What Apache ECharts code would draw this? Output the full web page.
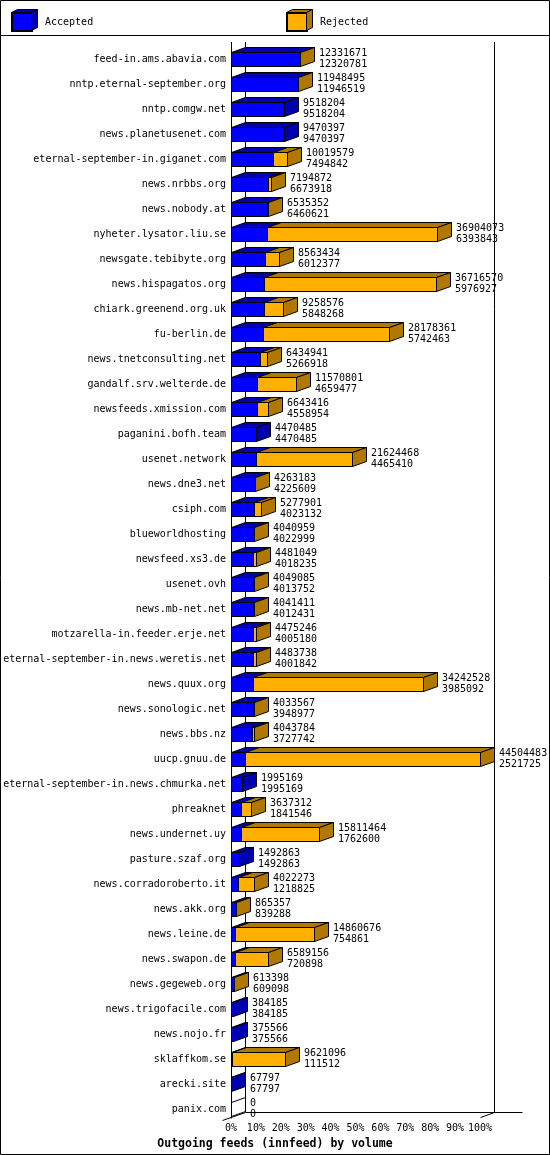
<!DOCTYPE html>
<html>
<head>
<meta charset="utf-8">
<script src="https://cdn.jsdelivr.net/npm/echarts@6/dist/echarts.min.js"></script>
<style>
html,body{margin:0;padding:0;background:#fff;}
#main{width:550px;height:1155px;}
</style>
</head>
<body>
<div id="main"></div>
<script>
var feeds = ['feed-in.ams.abavia.com','nntp.eternal-september.org','nntp.comgw.net','news.planetusenet.com',
	'eternal-september-in.giganet.com','news.nrbbs.org','news.nobody.at','nyheter.lysator.liu.se',
	'newsgate.tebibyte.org','news.hispagatos.org','chiark.greenend.org.uk','fu-berlin.de',
	'news.tnetconsulting.net','gandalf.srv.welterde.de','newsfeeds.xmission.com','paganini.bofh.team',
	'usenet.network','news.dne3.net','csiph.com','blueworldhosting','newsfeed.xs3.de','usenet.ovh',
	'news.mb-net.net','motzarella-in.feeder.erje.net','eternal-september-in.news.weretis.net',
	'news.quux.org','news.sonologic.net','news.bbs.nz','uucp.gnuu.de',
	'eternal-september-in.news.chmurka.net','phreaknet','news.undernet.uy','pasture.szaf.org',
	'news.corradoroberto.it','news.akk.org','news.leine.de','news.swapon.de','news.gegeweb.org',
	'news.trigofacile.com','news.nojo.fr','sklaffkom.se','arecki.site','panix.com'];
// offered articles (first number) and accepted (second number)
var offered = [12331671,11948495,9518204,9470397,10019579,7194872,6535352,36904073,8563434,36716570,
	9258576,28178361,6434941,11570801,6643416,4470485,21624468,4263183,5277901,4040959,4481049,
	4049085,4041411,4475246,4483738,34242528,4033567,4043784,44504483,1995169,3637312,15811464,
	1492863,4022273,865357,14860676,6589156,613398,384185,375566,9621096,67797,0];
var accepted = [12320781,11946519,9518204,9470397,7494842,6673918,6460621,6393843,6012377,5976927,
	5848268,5742463,5266918,4659477,4558954,4470485,4465410,4225609,4023132,4022999,4018235,
	4013752,4012431,4005180,4001842,3985092,3948977,3727742,2521725,1995169,1841546,1762600,
	1492863,1218825,839288,754861,720898,609098,384185,375566,111512,67797,0];
var tickLabels = ['0%','10%','20%','30%','40%','50%','60%','70%','80%','90%','100%'];

var FONT = 'DejaVu Sans Mono';
var BLUE = '#0000ff', BLUE_D = '#0000b0';
var ORANGE = '#ffb000', ORANGE_D = '#b07800';
var DX = 14, DY = 5, HALF = 7;

var maxOffered = Math.max.apply(null, offered);
var barData = [];
for (var i = 0; i < feeds.length; i++) {
	barData.push([i, accepted[i] / maxOffered * 100, offered[i] / maxOffered * 100]);
}

function px(v){ return Math.round(v) + 0.5; }
function face(points, fill){
	return { type:'polygon', shape:{points:points}, style:{fill:fill, stroke:'#000', lineWidth:1} };
}
function line(x1,y1,x2,y2){
	return { type:'line', shape:{x1:x1,y1:y1,x2:x2,y2:y2}, style:{stroke:'#000', lineWidth:1} };
}

function renderAccepted(params, api){
	var i = api.value(0), a = api.value(1), t = api.value(2);
	var c = api.coord([0, i]);
	var x0 = px(c[0]), xa = px(api.coord([a, i])[0]);
	var yt = px(c[1] - HALF), yb = px(c[1] + HALF);
	var ch = [];
	if (a > 0) {
		ch.push(face([[x0,yt],[xa,yt],[xa,yb],[x0,yb]], BLUE));
		ch.push(face([[x0,yt],[xa,yt],[xa+DX,yt-DY],[x0+DX,yt-DY]], BLUE_D));
		if (t <= a) ch.push(face([[xa,yt],[xa+DX,yt-DY],[xa+DX,yb-DY],[xa,yb]], BLUE_D));
	}
	return { type:'group', children:ch };
}

function renderRejected(params, api){
	var i = api.value(0), a = api.value(1), t = api.value(2);
	var c = api.coord([0, i]);
	var xa = px(api.coord([a, i])[0]), xt = px(api.coord([t, i])[0]);
	var yt = px(c[1] - HALF), yb = px(c[1] + HALF);
	var ch = [];
	if (t > a) {
		ch.push(face([[xa,yt],[xt,yt],[xt,yb],[xa,yb]], ORANGE));
		ch.push(face([[xa,yt],[xt,yt],[xt+DX,yt-DY],[xa+DX,yt-DY]], ORANGE_D));
		ch.push(face([[xt,yt],[xt+DX,yt-DY],[xt+DX,yb-DY],[xt,yb]], ORANGE_D));
	}
	return { type:'group', children:ch };
}

function renderLabels(params, api){
	var i = api.value(0), t = api.value(2);
	var c = api.coord([0, i]);
	var xt = api.coord([t, i])[0];
	var ch = [];
	if (t <= 0) {
		var x0 = px(c[0]), yt = px(c[1] - HALF), yb = px(c[1] + HALF);
		ch.push(face([[x0,yt],[x0+DX,yt-DY],[x0+DX,yb-DY],[x0,yb]], '#fff'));
	}
	ch.push({ type:'text', x:Math.round(xt) + DX + 5, y:c[1],
		style:{ text: offered[i] + '\n' + accepted[i], fill:'#000', font:'10px "' + FONT + '"',
			lineHeight:11, verticalAlign:'middle', align:'left' } });
	return { type:'group', children:ch };
}

function renderFrame(params, api){
	var n = feeds.length;
	var first = api.coord([0, 0]), last = api.coord([100, n - 1]);
	var x0 = px(first[0]), x1 = px(last[0]);
	var yTop = first[1] - 17, yFloor = px(last[1] + HALF + 1);
	return { type:'group', children:[
		line(x0, yTop, x0, yFloor + 1),
		line(x0 + DX, yTop, x0 + DX, yFloor - DY),
		line(x1 + DX, yTop, x1 + DX, yFloor - DY),
		line(x0 + DX, yFloor - DY, x1 + DX + 28, yFloor - DY),
		line(x0 - 9, yFloor + 3, x0 + DX, yFloor - DY),
		line(x1, yFloor, x1 + DX, yFloor - DY)
	]};
}

var myChart = echarts.init(document.getElementById('main'), null, {renderer:'canvas'});
var option = {
	backgroundColor: '#fff',
	animation: false,
	title: {
		text: 'Outgoing feeds (innfeed) by volume',
		left: 'center', top: 1133,
		textStyle: { fontFamily: FONT, fontSize: 11.5, fontWeight: 'bold', color: '#000' }
	},
	legend: [
		{ data:['Accepted'], left:11, top:12, itemWidth:20, itemHeight:18, icon:'rect',
		  padding:0, textStyle:{ fontFamily:FONT, fontSize:10, color:'#000', padding:[0,0,0,8] } },
		{ data:['Rejected'], left:286, top:12, itemWidth:20, itemHeight:18, icon:'rect',
		  padding:0, textStyle:{ fontFamily:FONT, fontSize:10, color:'#000', padding:[0,0,0,8] } }
	],
	grid: { left: 231, right: 70, top: 46.5, bottom: 33.5 },
	xAxis: {
		type: 'value', min: 0, max: 100, interval: 10,
		axisLine: {show:false}, axisTick: {show:false}, splitLine: {show:false},
		axisLabel: { margin: 2, fontFamily: FONT, fontSize: 10, color: '#000',
			formatter: function(v, idx){ return tickLabels[Math.round(v / 10)]; } }
	},
	yAxis: {
		type: 'category', inverse: true, data: feeds,
		axisLine: {show:false}, axisTick: {show:false}, splitLine: {show:false},
		axisLabel: { margin: 5, fontFamily: FONT, fontSize: 10, color: '#000', interval: 0 }
	},
	graphic: [
		{ type:'rect', shape:{x:0.5, y:0.5, width:549, height:1154}, style:{fill:'none', stroke:'#000'}, z:100 },
		{ type:'line', shape:{x1:0, y1:35.5, x2:550, y2:35.5}, style:{stroke:'#000'}, z:100 },
		// 3D faces of the legend boxes
		{ type:'polygon', shape:{points:[[11.5,12.5],[31.5,12.5],[37.5,9.5],[17.5,9.5]]}, style:{fill:BLUE_D, stroke:'#000'}, z:100 },
		{ type:'polygon', shape:{points:[[31.5,12.5],[37.5,9.5],[37.5,27.5],[31.5,30.5]]}, style:{fill:BLUE_D, stroke:'#000'}, z:100 },
		{ type:'polygon', shape:{points:[[286.5,12.5],[306.5,12.5],[312.5,9.5],[292.5,9.5]]}, style:{fill:ORANGE_D, stroke:'#000'}, z:100 },
		{ type:'polygon', shape:{points:[[306.5,12.5],[312.5,9.5],[312.5,27.5],[306.5,30.5]]}, style:{fill:ORANGE_D, stroke:'#000'}, z:100 }
	],
	series: [
		{ name:'frame', type:'custom', renderItem: renderFrame, data:[[0, 0]], encode:{x:0, y:1}, silent:true, z:1 },
		{ name:'Accepted', type:'custom', renderItem: renderAccepted, data: barData,
		  encode:{y:0, x:[1,2]}, itemStyle:{color:BLUE, borderColor:'#000', borderWidth:1}, z:2 },
		{ name:'Rejected', type:'custom', renderItem: renderRejected, data: barData,
		  encode:{y:0, x:[1,2]}, itemStyle:{color:ORANGE, borderColor:'#000', borderWidth:1}, z:3 },
		{ name:'values', type:'custom', renderItem: renderLabels, data: barData,
		  encode:{y:0, x:[1,2]}, silent:true, z:4 }
	]
};
myChart.setOption(option);
</script>
</body>
</html>
